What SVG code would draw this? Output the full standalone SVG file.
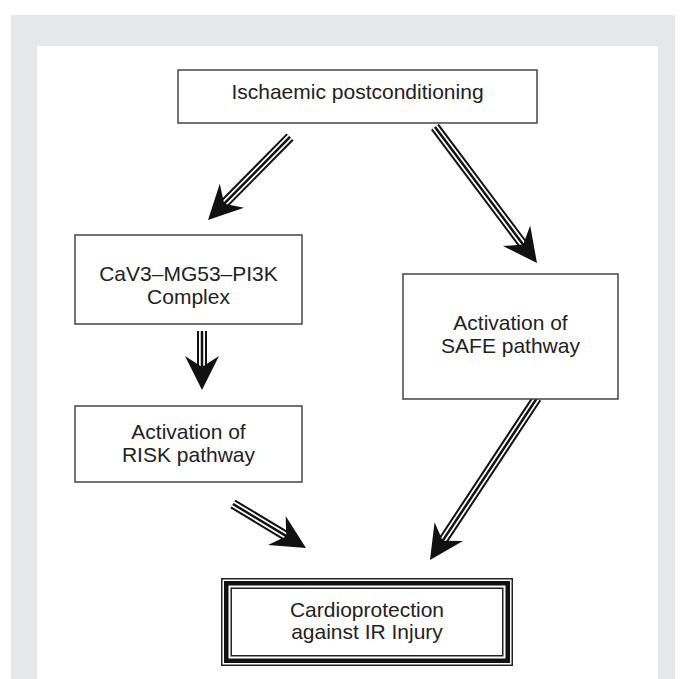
<svg xmlns="http://www.w3.org/2000/svg" xmlns:xlink="http://www.w3.org/1999/xlink" width="683" height="679" viewBox="0 0 683 679">
<style>
.box{fill:#fff;stroke:#444;stroke-width:1.5}
.t{font-family:"Liberation Sans",Arial,sans-serif;font-size:21px;fill:#222;text-anchor:middle}
.s1{stroke:#111;stroke-width:10;fill:none}
.s2{stroke:#fff;stroke-width:6;fill:none}
.s3{stroke:#111;stroke-width:2.5;fill:none}
.hd{fill:#111}
</style>
<defs>
<path id="head" d="M0,0 L-34,-17 L-23,0 L-34,17 Z"/>
</defs>
<rect x="11" y="15" width="664" height="664" fill="#e6e7e8"/>
<rect x="37" y="46" width="621" height="633" fill="#fff"/>

<g id="connectors">
  <g transform="translate(208,220) rotate(134.65)">
    <line class="s1" x1="-116.7" y1="0" x2="-22" y2="0"/><line class="s2" x1="-116.7" y1="0" x2="-22" y2="0"/><line class="s3" x1="-116.7" y1="0" x2="-22" y2="0"/>
    <use href="#head" class="hd"/>
  </g>
  <g transform="translate(537,263) rotate(53.13)">
    <line class="s1" x1="-170" y1="0" x2="-22" y2="0"/><line class="s2" x1="-170" y1="0" x2="-22" y2="0"/><line class="s3" x1="-170" y1="0" x2="-22" y2="0"/>
    <use href="#head" class="hd"/>
  </g>
  <g transform="translate(202,390) rotate(90)">
    <line class="s1" x1="-59" y1="0" x2="-22" y2="0"/><line class="s2" x1="-59" y1="0" x2="-22" y2="0"/><line class="s3" x1="-59" y1="0" x2="-22" y2="0"/>
    <use href="#head" class="hd"/>
  </g>
  <g transform="translate(306,548) rotate(31.08)">
    <line class="s1" x1="-85.2" y1="0" x2="-22" y2="0"/><line class="s2" x1="-85.2" y1="0" x2="-22" y2="0"/><line class="s3" x1="-85.2" y1="0" x2="-22" y2="0"/>
    <use href="#head" class="hd"/>
  </g>
  <g transform="translate(430,560) rotate(123.45)">
    <line class="s1" x1="-194.1" y1="0" x2="-22" y2="0"/><line class="s2" x1="-194.1" y1="0" x2="-22" y2="0"/><line class="s3" x1="-194.1" y1="0" x2="-22" y2="0"/>
    <use href="#head" class="hd"/>
  </g>
</g>

<g id="ischaemic">
  <rect class="box" x="178" y="70" width="359" height="53"/>
  <text class="t" x="357.5" y="99">Ischaemic postconditioning</text>
</g>
<g id="complex">
  <rect class="box" x="75" y="235" width="227" height="89"/>
  <text class="t" x="188.5" y="281">CaV3–MG53–PI3K</text>
  <text class="t" x="188.5" y="304">Complex</text>
</g>
<g id="risk">
  <rect class="box" x="75" y="406" width="227" height="76"/>
  <text class="t" x="188.5" y="439">Activation of</text>
  <text class="t" x="188.5" y="462">RISK pathway</text>
</g>
<g id="safe">
  <rect class="box" x="403" y="274" width="215" height="125"/>
  <text class="t" x="510.5" y="330">Activation of</text>
  <text class="t" x="510.5" y="353">SAFE pathway</text>
</g>
<g id="cardioprotection">
  <rect x="221.75" y="578.75" width="290.5" height="86.5" fill="#fff" stroke="#222" stroke-width="1.5"/>
  <rect x="226.25" y="583.25" width="281.5" height="77.5" fill="none" stroke="#111" stroke-width="4.5"/>
  <rect x="231.25" y="588.25" width="271.5" height="67.5" fill="none" stroke="#222" stroke-width="1.5"/>
  <text class="t" x="367" y="617">Cardioprotection</text>
  <text class="t" x="367" y="639">against IR Injury</text>
</g>
</svg>
